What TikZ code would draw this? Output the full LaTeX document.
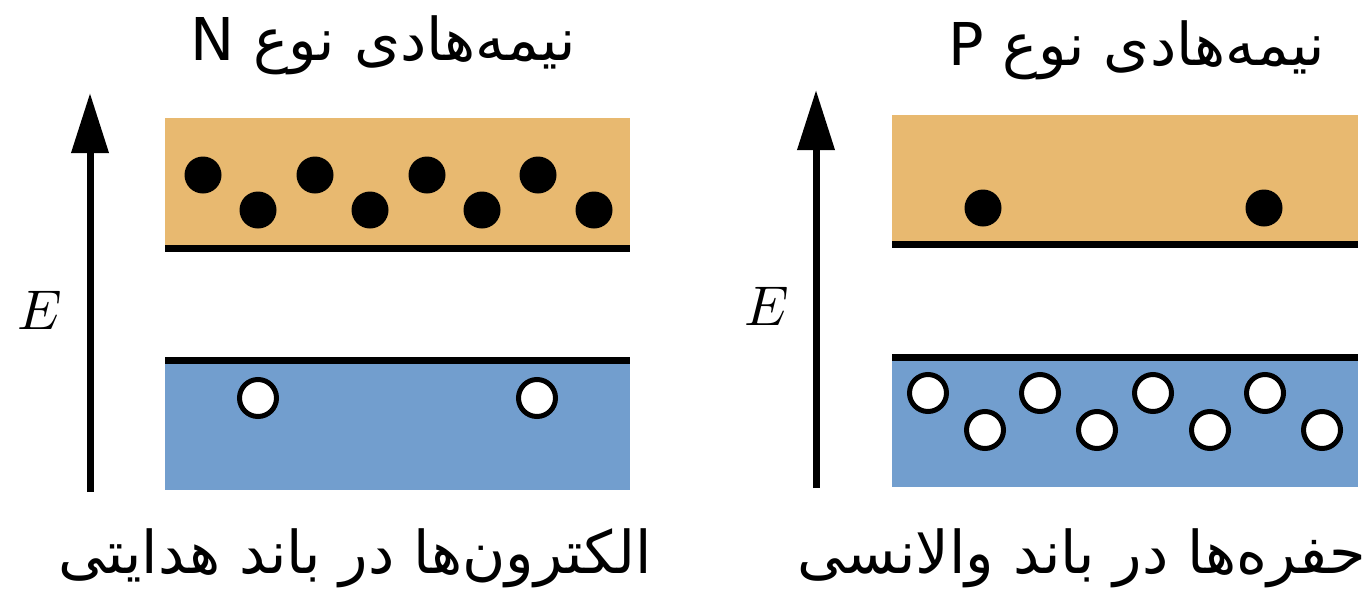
\documentclass[tikz,border=0pt]{standalone}
\usepackage{fontspec}
\setmainfont{DejaVu Sans}
\newfontfamily\arabicfont[Script=Arabic]{DejaVu Sans}
\TeXXeTstate=1
\usetikzlibrary{arrows.meta}
\definecolor{bandorange}{RGB}{232,185,112}
\definecolor{bandblue}{RGB}{114,158,206}
\tikzset{
  energyarrow/.style={line width=7pt,-{Triangle[length=60pt,width=36pt]}},
  bandline/.style={line width=7pt},
  electron/.style={circle,fill=black,minimum size=37pt,inner sep=0pt},
  hole/.style={circle,fill=white,draw=black,line width=5pt,minimum size=37pt,inner sep=0pt},
  fatext/.style={font=\arabicfont\fontsize{59}{64}\selectfont,inner sep=0pt},
  elabel/.style={inner sep=0pt}
}
\begin{document}
\begin{tikzpicture}[x=1pt,y=-1pt]
\useasboundingbox (0,0) rectangle (1368,590);
% ---------- left panel (N type)
\fill[bandorange] (165,118) rectangle (630,248);
\fill[bandblue] (165,360) rectangle (630,490);
\coordinate (lcl) at (165,248); \coordinate (lcr) at (630,248);
\coordinate (lvl) at (165,360); \coordinate (lvr) at (630,360);
\draw[bandline] (lcl) -- (lcr);
\draw[bandline] (lvl) -- (lvr);
\coordinate (la0) at (90,492); \coordinate (la1) at (90,93);
\draw[energyarrow] (la0) -- (la1);
\node[elabel] (lE) at (40,310) {\scalebox{5.6}{$E$}};
\node[fatext] (ltitle) at (383,45) {\beginR نیمه‌هادی نوع \beginL N\endL\endR};
\node[fatext] (lcap) at (355,558) {\beginR الکترون‌ها در باند هدایتی\endR};
\foreach \i/\x/\y in {1/203/175,2/315/175,3/427/175,4/538/175,5/258/210,6/370/210,7/482/210,8/594/210}
  \node[electron] (le\i) at (\x,\y) {};
\node[hole] (lh1) at (258,398) {};
\node[hole] (lh2) at (537,398) {};
% ---------- right panel (P type)
\fill[bandorange] (892,115) rectangle (1358,244);
\fill[bandblue] (892,357) rectangle (1358,487);
\coordinate (rcl) at (892,244); \coordinate (rcr) at (1358,244);
\coordinate (rvl) at (892,357); \coordinate (rvr) at (1358,357);
\draw[bandline] (rcl) -- (rcr);
\draw[bandline] (rvl) -- (rvr);
\coordinate (ra0) at (816,488); \coordinate (ra1) at (816,90);
\draw[energyarrow] (ra0) -- (ra1);
\node[elabel] (rE) at (767,306) {\scalebox{5.6}{$E$}};
\node[fatext] (rtitle) at (1137,50) {\beginR نیمه‌هادی نوع \beginL P\endL\endR};
\node[fatext] (rcap) at (1082,558) {\beginR حفره‌ها در باند والانسی\endR};
\node[electron] (re1) at (983,208) {};
\node[electron] (re2) at (1264,208) {};
\foreach \i/\x/\y in {1/928/393,2/1040/393,3/1153/393,4/1265/393,5/985/430,6/1097/430,7/1210/430,8/1322/430}
  \node[hole] (rh\i) at (\x,\y) {};
\end{tikzpicture}
\end{document}
